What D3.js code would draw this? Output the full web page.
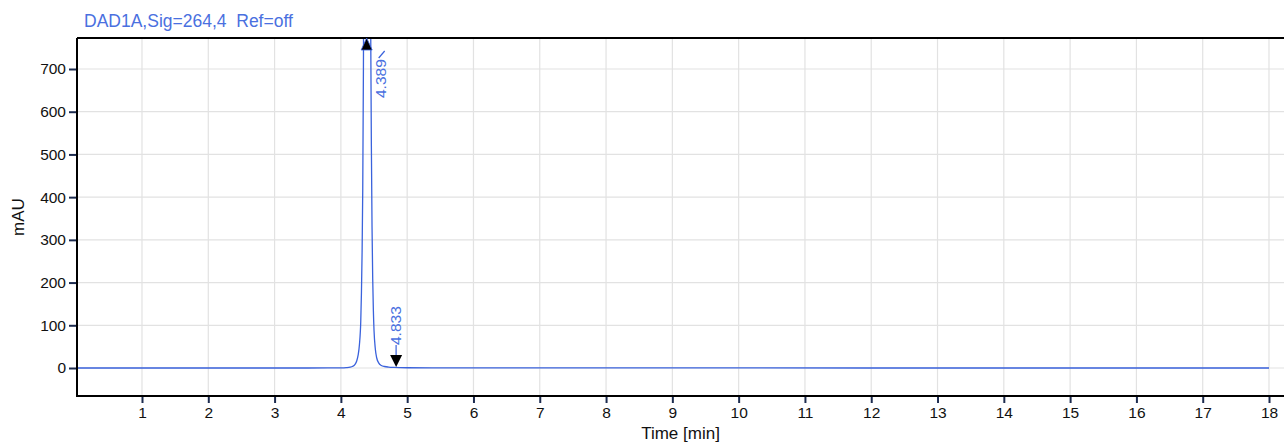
<!DOCTYPE html>
<html><head><meta charset="utf-8">
<script src="https://cdn.jsdelivr.net/npm/d3@7"></script>
<style>body{margin:0;background:#fff;} svg{display:block;font-family:Arial,"Liberation Sans",sans-serif;}</style>
</head><body><svg id="c" width="1284" height="445"></svg>
<script>
// ---- data ----
const timeMin = [0, 1, 2, 3, 3.5, 3.8, 4.0, 4.08, 4.14, 4.18, 4.21, 4.24, 4.26, 4.28,
  4.30, 4.31, 4.32, 4.33, 4.34, 4.35, 4.36, 4.37, 4.38, 4.392,
  4.40, 4.41, 4.42, 4.43, 4.44, 4.45, 4.46, 4.47, 4.48, 4.49, 4.50,
  4.52, 4.54, 4.57, 4.61, 4.66, 4.72, 4.80, 4.90, 5.0, 5.5, 6, 8, 12, 18];
const signalMAU = [0, 0, 0, 0, 0.05, 0.1, 0.3, 0.8, 1.8, 4, 8, 17, 30, 55,
  110, 175, 270, 420, 700, 1150, 1700, 2300, 2800, 3000,
  2950, 2650, 2150, 1600, 1150, 790, 520, 330, 210, 135, 88,
  44, 24, 12, 6, 3.5, 2.2, 1.4, 0.9, 0.6, 0.3, 0.2, 0.1, 0.05, 0];
const xTicks = [1,2,3,4,5,6,7,8,9,10,11,12,13,14,15,16,17,18];
const yTicks = [0,100,200,300,400,500,600,700];
const peakTimes = [4.389, 4.833];
const peakLabels = ["4.389", "4.833"];
const titleText = "DAD1A,Sig=264,4\u00a0\u00a0Ref=off";

// ---- layout ----
const W = 1284, H = 445;
const L = 77, R = 1284, T = 38, B = 396;
const blue = "#3a62dc", textBlue = "#4a70e0", tickCol = "#1c2b4f", gridCol = "#e2e2e2";

const svg = d3.select("#c");
const x = d3.scaleLinear().domain([0, 18]).range([75.7, 1269]);
const y = d3.scaleLinear().domain([0, 700]).range([368, 69]);

svg.append("defs").append("clipPath").attr("id","clip")
  .append("rect").attr("x", L).attr("y", T).attr("width", R - L).attr("height", B - T);

// grid
const grid = svg.append("g");
grid.selectAll("line.v").data(xTicks).join("line")
  .attr("x1", d => x(d)).attr("x2", d => x(d)).attr("y1", T).attr("y2", B)
  .attr("stroke", gridCol).attr("stroke-width", 1.2);
grid.selectAll("line.h").data(yTicks).join("line")
  .attr("x1", L).attr("x2", R).attr("y1", d => y(d)).attr("y2", d => y(d))
  .attr("stroke", gridCol).attr("stroke-width", 1.2);

// trace
const pts = timeMin.map((t, i) => [t, signalMAU[i]]);
svg.append("path").attr("clip-path", "url(#clip)")
  .attr("d", d3.line().x(d => x(d[0])).y(d => y(d[1])).curve(d3.curveMonotoneX)(pts))
  .attr("fill", "none").attr("stroke", blue).attr("stroke-width", 1.3);

// axes
const ya = svg.append("g").attr("transform", `translate(${L},0)`)
  .call(d3.axisLeft(y).tickValues(yTicks).tickSize(8).tickPadding(3));
const xa = svg.append("g").attr("transform", `translate(0,${B})`)
  .call(d3.axisBottom(x).tickValues(xTicks).tickSize(7).tickPadding(4));
[ya, xa].forEach(a => {
  a.select(".domain").remove();
  a.selectAll(".tick line").attr("stroke", tickCol).attr("stroke-width", 2);
  a.selectAll(".tick text").attr("fill", "#111").style("font-size", "15.5px")
    .style("font-family", "Arial,'Liberation Sans',sans-serif");
});
svg.append("path").attr("d", `M${L},${T}V${B}H${R}`).attr("fill","none").attr("stroke","#000").attr("stroke-width",2);
svg.append("line").attr("x1", L).attr("x2", R).attr("y1", T).attr("y2", T).attr("stroke","#000").attr("stroke-width",2);

// peak markers
const px0 = x(peakTimes[0]);
svg.append("path").attr("d", `M${px0},${T}L${px0+5.5},${T+12}L${px0-5.5},${T+12}Z`).attr("fill","#000")
  .attr("stroke", blue).attr("stroke-width", 0.8);
svg.append("line").attr("x1", px0+12).attr("y1", 58).attr("x2", px0+18).attr("y2", 51)
  .attr("stroke", blue).attr("stroke-width", 1.2);
svg.append("text").attr("transform", `translate(${px0+19},98) rotate(-90)`)
  .attr("fill", textBlue).style("font-size","15.5px").text(peakLabels[0]);

const px1 = x(peakTimes[1]);
svg.append("path").attr("d", `M${px1-6},${355}L${px1+6},${355}L${px1},${367}Z`).attr("fill","#000");
svg.append("line").attr("x1", px1).attr("x2", px1).attr("y1", 355).attr("y2", 345)
  .attr("stroke", blue).attr("stroke-width", 1.2);
svg.append("text").attr("transform", `translate(${px1+5},345) rotate(-90)`)
  .attr("fill", textBlue).style("font-size","15.5px").text(peakLabels[1]);

// titles
svg.append("text").attr("x", 84).attr("y", 27).attr("fill", textBlue)
  .style("font-size","17.5px").text(titleText);
svg.append("text").attr("x", (L + R) / 2).attr("y", 439).attr("text-anchor","middle")
  .attr("fill","#111").style("font-size","17px").text("Time [min]");
svg.append("text").attr("transform", `translate(24,${(T + B) / 2}) rotate(-90)`).attr("text-anchor","middle")
  .attr("fill","#111").style("font-size","17px").text("mAU");
</script></body></html>
